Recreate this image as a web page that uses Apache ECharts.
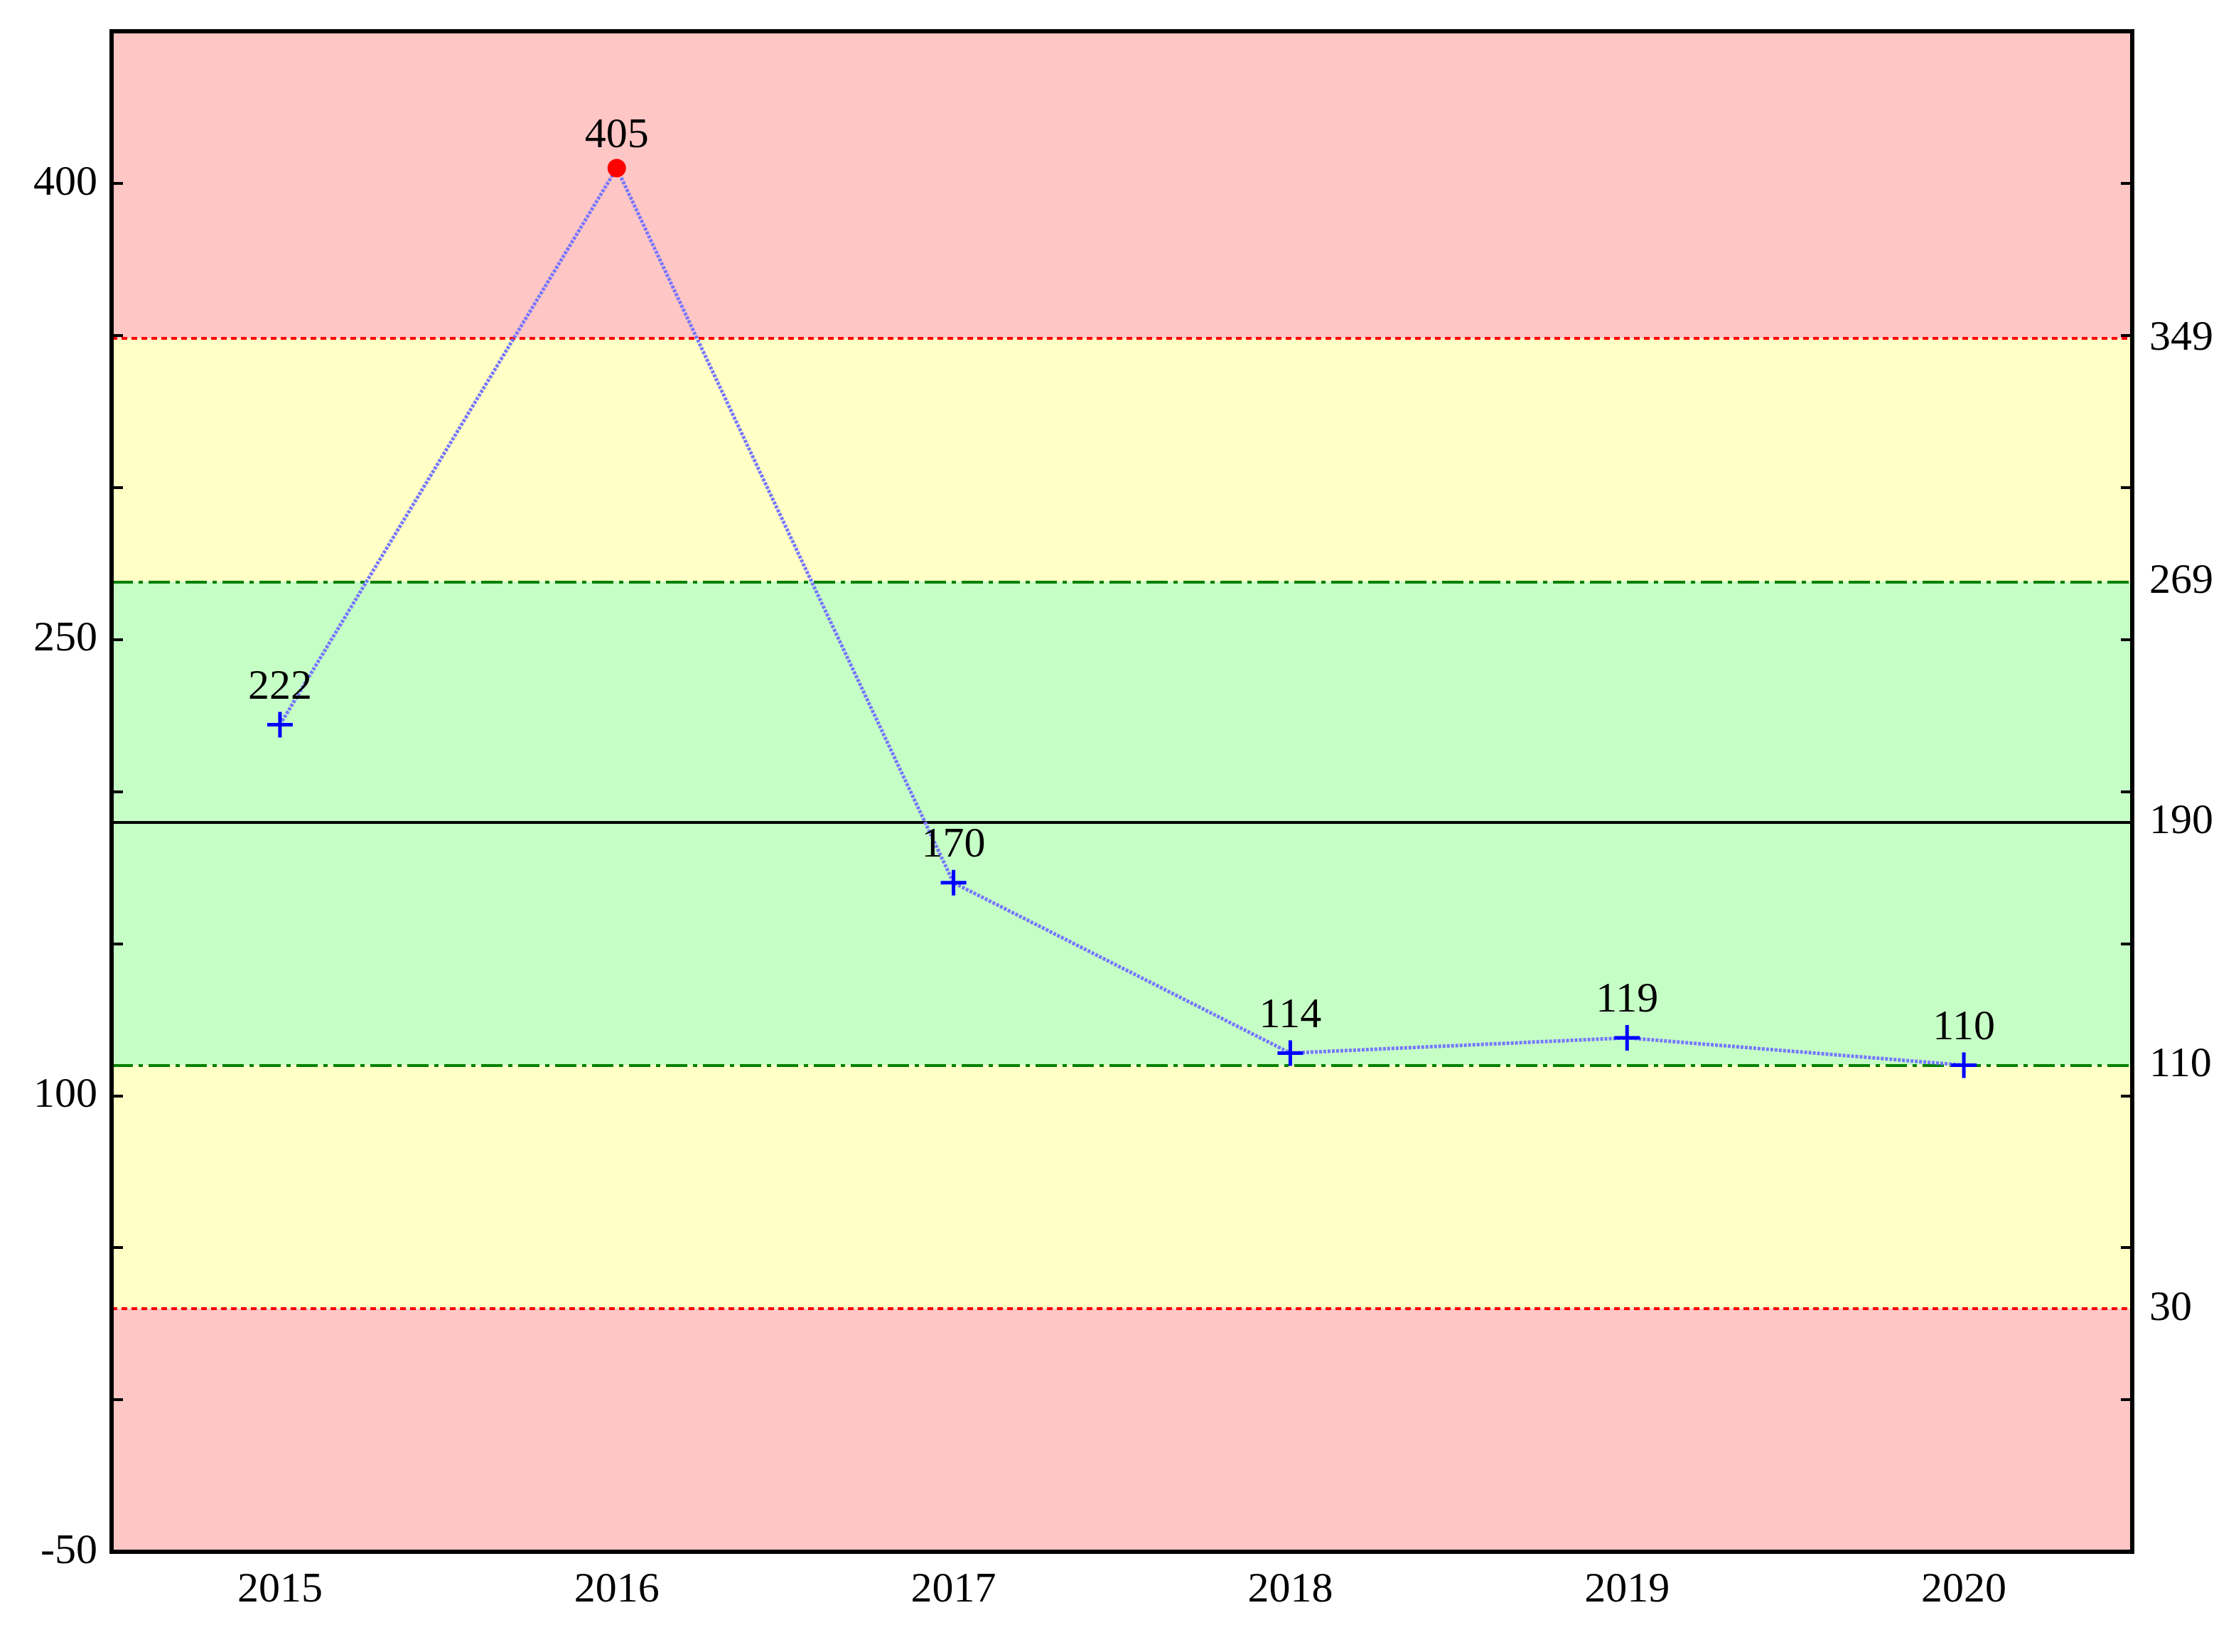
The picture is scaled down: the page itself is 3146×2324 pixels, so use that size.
<!DOCTYPE html>
<html><head><meta charset="utf-8">
<script src="https://cdn.jsdelivr.net/npm/echarts@6/dist/echarts.min.js"></script>
<style>html,body{margin:0;padding:0;background:#fff}#c{width:3146px;height:2324px}</style>
</head><body><div id="c"></div>
<script>
const categories = ['2015','2016','2017','2018','2019','2020'];
const values = [222, 405, 170, 114, 119, 110];
const limits = {ucl:349, uwl:269, cl:190, lwl:110, lcl:30};
const rightLabels = [30, 110, 190, 269, 349];
const yMin = -50, yMax = 450;
const F = 'Liberation Serif';
const chart = echarts.init(document.getElementById('c'));
const plus = 'path://M0,10L20,10M10,0L10,20';
chart.setOption({
  animation:false,
  grid:{left:157,right:146,top:44,bottom:141,show:true,borderColor:'#000',borderWidth:6,backgroundColor:'transparent',z:10},
  xAxis:{type:'category',data:categories,boundaryGap:true,
    axisLine:{show:false},
    axisTick:{inside:true,length:16,alignWithLabel:true,lineStyle:{color:'#000',width:4}},
    axisLabel:{fontFamily:F,fontSize:60,color:'#000',margin:24}},
  yAxis:[
    {type:'value',min:yMin,max:yMax,interval:50,
      axisLine:{show:false},splitLine:{show:false},
      axisTick:{show:true,inside:true,length:16,lineStyle:{color:'#000',width:4}},
      axisLabel:{fontFamily:F,fontSize:60,color:'#000',margin:20,
        formatter:v=>([-50,100,250,400].includes(v)?String(v):'')}},
    {type:'value',min:yMin,max:yMax,interval:50,position:'right',
      axisLine:{show:false},splitLine:{show:false},
      axisTick:{show:true,inside:true,length:16,lineStyle:{color:'#000',width:4}},
      axisLabel:{fontFamily:F,fontSize:60,color:'#000',margin:24,customValues:rightLabels}}
  ],
  series:[{
    type:'line',data:values.map((v,i)=>({value:v,
      symbol: v>limits.ucl||v<limits.lcl ? 'circle':plus,
      symbolSize: v>limits.ucl||v<limits.lcl ? 26:36,
      itemStyle: v>limits.ucl||v<limits.lcl ? {color:'#ff0000',borderWidth:0} : {color:'none',borderColor:'#0000ff',borderWidth:5}})),
    z:5,
    lineStyle:{color:'#7777ff',width:5,type:[4,2]},
    label:{show:true,position:'top',distance:2,fontFamily:F,fontSize:60,color:'#000'},
    markArea:{silent:true,z:0,data:[
      [{yAxis:limits.ucl,itemStyle:{color:'#ffc6c6'}},{yAxis:yMax}],
      [{yAxis:limits.uwl,itemStyle:{color:'#ffffc6'}},{yAxis:limits.ucl}],
      [{yAxis:limits.lwl,itemStyle:{color:'#c6ffc6'}},{yAxis:limits.uwl}],
      [{yAxis:limits.lcl,itemStyle:{color:'#ffffc6'}},{yAxis:limits.lwl}],
      [{yAxis:yMin,itemStyle:{color:'#ffc6c6'}},{yAxis:limits.lcl}]
    ]},
    markLine:{silent:true,symbol:'none',label:{show:false},z:3,data:[
      {yAxis:limits.ucl,lineStyle:{color:'#ff0000',width:4,type:[8,6]}},
      {yAxis:limits.lcl,lineStyle:{color:'#ff0000',width:4,type:[8,6]}},
      {yAxis:limits.uwl,lineStyle:{color:'#008000',width:4,type:[30,8,6,8]}},
      {yAxis:limits.lwl,lineStyle:{color:'#008000',width:4,type:[30,8,6,8]}},
      {yAxis:limits.cl,lineStyle:{color:'#000',width:4,type:'solid'}}
    ]}
  }]
});
</script></body></html>
